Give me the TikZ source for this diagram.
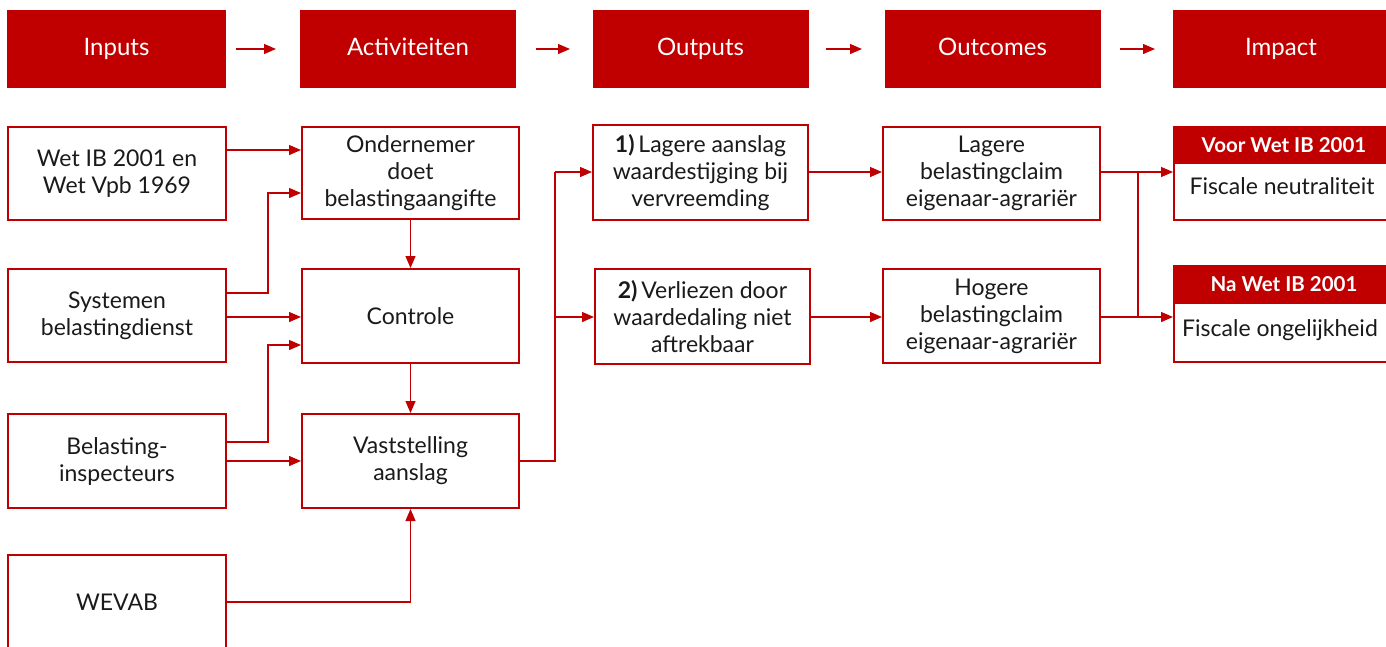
\documentclass[tikz,border=0pt]{standalone}
\usepackage{fontspec}
\setmainfont{Lato}
\usetikzlibrary{arrows.meta}
\definecolor{rd}{HTML}{C00000}
\definecolor{tx}{HTML}{1A1A1A}
\tikzset{
  hdr/.style={fill=rd, draw=none, text=white, font=\fontsize{24}{28}\selectfont, minimum height=78pt, inner sep=0pt, text height=17pt, text depth=5pt},
  bodyfont/.style={font=\fontsize{23}{27}\selectfont},
  box/.style={draw=rd, line width=2pt, fill=white, text=tx, align=center, bodyfont, inner sep=0pt},
  conn/.style={draw=rd, line width=1.3pt, -{Triangle[length=12pt,width=10pt]}},
  line/.style={draw=rd, line width=1.3pt},
  ihdr/.style={fill=rd, draw=rd, line width=2pt, text=white, font=\bfseries\fontsize{20.5}{24}\selectfont, inner sep=0pt},
}
\begin{document}
\begin{tikzpicture}[x=1pt,y=-1pt]
\useasboundingbox (0,0) rectangle (1386,646);
% headers
\node[hdr, minimum width=219pt] (h1) at (116.5,49) {Inputs};
\node[hdr, minimum width=216pt] (h2) at (408,49) {Activiteiten};
\node[hdr, minimum width=216pt] (h3) at (700.5,49) {Outputs};
\node[hdr, minimum width=216pt] (h4) at (992.5,49) {Outcomes};
\node[hdr, minimum width=216pt] (h5) at (1281,49) {Impact};
\draw[conn] (236,49) -- (276,49);
\draw[conn] (536,49) -- (570,49);
\draw[conn] (826,49) -- (862,49);
\draw[conn] (1120,49) -- (1155,49);
% inputs
\node[box, minimum width=218pt, minimum height=93pt] (wet) at (117,173.5) {Wet IB 2001 en\\Wet Vpb 1969};
\node[box, minimum width=218pt, minimum height=93pt] (sys) at (117,315.5) {Systemen\\belastingdienst};
\node[box, minimum width=218pt, minimum height=94pt] (bel) at (117,461) {Belasting-\\inspecteurs};
\node[box, minimum width=218pt, minimum height=110pt] (wev) at (117,610) {};
\node[text=tx, bodyfont] (wevt) at (117,602) {WEVAB};
% activities
\node[box, minimum width=217pt, minimum height=92pt] (ond) at (410.5,173) {Ondernemer\\doet\\belastingaangifte};
\node[box, minimum width=217pt, minimum height=94pt] (con) at (410.5,316) {Controle};
\node[box, minimum width=217pt, minimum height=94pt] (vas) at (410.5,461) {Vaststelling\\aanslag};
% outputs
\node[box, minimum width=215pt, minimum height=95pt] (o1) at (700.5,172.5) {\textbf{1)}\,Lagere aanslag\\waardestijging bij\\vervreemding};
\node[box, minimum width=215pt, minimum height=95pt] (o2) at (702.5,316.5) {\textbf{2)}\,Verliezen door\\waardedaling niet\\aftrekbaar};
% outcomes
\node[box, minimum width=217pt, minimum height=93pt] (oc1) at (991.5,173.5) {Lagere\\belastingclaim\\eigenaar-agrariër};
\node[box, minimum width=217pt, minimum height=94pt] (oc2) at (991.5,316) {Hogere\\belastingclaim\\eigenaar-agrariër};
% impact
\node[box, minimum width=220pt, minimum height=93pt] (im1) at (1284,173.5) {};
\node[ihdr, minimum width=220pt, minimum height=36pt] (im1h) at (1284,145) {Voor Wet IB 2001};
\node[text=tx, bodyfont] (im1t) at (1282,186) {Fiscale neutraliteit};
\node[box, minimum width=220pt, minimum height=96pt] (im2) at (1284,314) {};
\node[ihdr, minimum width=220pt, minimum height=37pt] (im2h) at (1284,284.5) {Na Wet IB 2001};
\node[text=tx, bodyfont] (im2t) at (1280,330) {Fiscale ongelijkheid};
% connectors inputs -> activities
\draw[conn] (wet.east |- 0,150) -- (ond.west |- 0,150);
\draw[conn] (sys.east |- 0,293) -- (268,293) -- (268,193) -- (ond.west |- 0,193);
\draw[conn] (sys.east |- 0,317) -- (con.west |- 0,317);
\draw[conn] (bel.east |- 0,442) -- (268,442) -- (268,345) -- (con.west |- 0,345);
\draw[conn] (bel.east |- 0,461) -- (vas.west |- 0,461);
\draw[conn] (ond.south) -- (con.north);
\draw[conn] (con.south) -- (vas.north);
\draw[conn] (wev.east |- 0,602) -| (vas.south);
% activities -> outputs
\draw[line] (vas.east) -- (555,461) -- (555,172);
\draw[conn] (555,172) -- (o1.west |- 0,172);
\draw[conn] (555,317) -- (o2.west |- 0,317);
% outputs -> outcomes
\draw[conn] (o1.east |- 0,172) -- (oc1.west |- 0,172);
\draw[conn] (o2.east |- 0,317) -- (oc2.west |- 0,317);
% outcomes -> impact
\draw[conn] (oc1.east |- 0,172) -- (im1.west |- 0,172);
\draw[conn] (oc2.east |- 0,317) -- (im2.west |- 0,317);
\draw[line] (1138,172) -- (1138,317);
\end{tikzpicture}
\end{document}
